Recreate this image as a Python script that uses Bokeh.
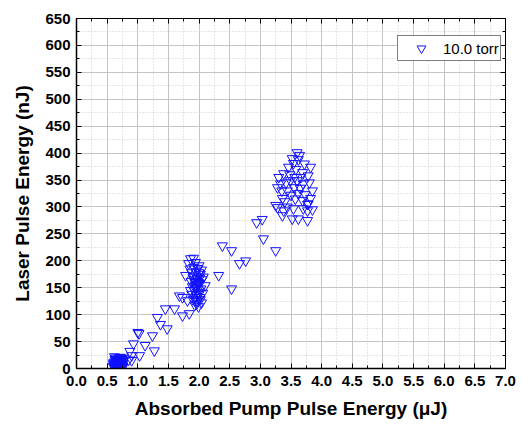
import numpy as np
from bokeh.plotting import figure
from bokeh.models import (Range1d, SingleIntervalTicker, FixedTicker, LinearAxis,
                          NumeralTickFormatter, Legend, LegendItem, ColumnDataSource)
from bokeh.embed import file_html
from bokeh.resources import INLINE

# ---- data ----
x_low = [0.60, 0.61, 0.62, 0.63, 0.63, 0.64, 0.65, 0.65, 0.66, 0.67, 0.67, 0.68, 0.68, 0.69, 0.70,
         0.70, 0.71, 0.71, 0.72, 0.72, 0.73, 0.74, 0.74, 0.75, 0.76, 0.62, 0.66, 0.69, 0.73, 0.77,
         0.61, 0.64, 0.66, 0.68, 0.70, 0.72, 0.74, 0.76, 0.63, 0.67, 0.71, 0.75, 0.65, 0.69, 0.73,
         0.60, 0.64, 0.68, 0.72, 0.76]
y_low = [4, 12, 2, 8, 17, 5, 11, 20, 3, 14, 7, 18, 1, 10, 5,
         15, 21, 8, 3, 12, 17, 6, 13, 19, 9, 22, 1, 4, 10, 15,
         7, 15, 9, 6, 19, 16, 2, 14, 11, 2, 13, 4, 17, 7, 20,
         9, 1, 13, 7, 3]

x_mid = [0.85, 0.87, 0.90, 0.90, 0.93, 1.00, 1.02, 1.03, 1.12, 1.24, 1.27, 1.32, 1.37, 1.45,
         1.48, 1.60, 1.68, 1.73, 1.73, 1.84, 1.81, 1.78]
y_mid = [16, 32, 15, 24, 46, 67, 65, 24, 43, 61, 33, 95, 82, 111,
         74, 111, 135, 98, 132, 102, 126, 173]

x_two = [1.86, 1.83, 1.94, 2.00, 1.91, 1.85, 1.88, 1.95, 2.02, 1.90, 1.97, 2.05, 1.87, 1.93,
         2.00, 2.10, 1.89, 1.96, 2.03, 1.92, 1.98, 2.06, 1.88, 1.95, 2.01, 1.90, 1.97, 2.04,
         1.93, 1.99, 2.02, 1.86, 1.94, 2.07, 1.91, 1.98, 2.04, 1.96, 2.00, 1.92,
         1.95, 1.99, 1.93, 1.97, 2.01, 1.94, 1.98, 1.96, 2.00, 1.95]
y_two = [204, 195, 197, 191, 205, 185, 178, 180, 175, 170, 168, 165, 162, 160,
         158, 154, 152, 150, 148, 145, 142, 140, 138, 135, 132, 128, 125, 122,
         118, 115, 128, 145, 155, 170, 188, 186, 183, 120, 138, 165,
         172, 160, 150, 146, 168, 132, 156, 162, 178, 126]

x_gap = [2.38, 2.53, 2.76, 2.66, 2.32, 2.53, 2.94, 3.03, 3.05, 3.25]
y_gap = [228, 219, 200, 195, 173, 148, 271, 277, 241, 219]

x_high = [3.60, 3.64, 3.52, 3.54, 3.82, 3.46, 3.69, 3.38, 3.30, 3.78, 3.28, 3.44, 3.55, 3.62,
          3.82, 3.25, 3.38, 3.54, 3.77, 3.77, 3.69, 3.36, 3.49, 3.60, 3.70, 3.33, 3.28, 3.36,
          3.52, 3.62, 3.77, 3.70, 3.78, 3.58, 3.66, 3.72, 3.48, 3.42, 3.57, 3.65, 3.50, 3.40,
          3.85, 3.80, 3.62, 3.44, 3.73, 3.56, 3.35, 3.85]
y_high = [401, 396, 390, 381, 374, 374, 364, 362, 355, 358, 336, 330, 336, 325,
          316, 303, 293, 297, 293, 305, 312, 316, 349, 349, 343, 343, 299, 284,
          278, 278, 275, 297, 306, 370, 355, 380, 360, 345, 315, 335, 322, 310,
          330, 345, 388, 300, 323, 355, 330, 295]

x_vals = x_low + x_mid + x_two + x_gap + x_high
y_vals = y_low + y_mid + y_two + y_gap + y_high
series_label = "10.0 torr"

x_min, x_max, x_step = 0.0, 7.0, 0.5
y_min, y_max, y_step = 0, 650, 50

FONT = "Liberation Sans"

p = figure(frame_width=429, frame_height=350, output_backend="svg", toolbar_location=None,
           x_range=Range1d(x_min, x_max), y_range=Range1d(y_min, y_max),
           min_border_left=76, min_border_top=18, min_border_right=15, min_border_bottom=55,
           background_fill_color="white", border_fill_color="white")
p.outline_line_color = "black"
p.outline_line_width = 1

xt = SingleIntervalTicker(interval=x_step, num_minor_ticks=2)
yt = SingleIntervalTicker(interval=y_step, num_minor_ticks=2)

p.xaxis.ticker = xt
p.yaxis.ticker = yt
p.xaxis.formatter = NumeralTickFormatter(format="0.0")

for ax in (p.xaxis[0], p.yaxis[0]):
    ax.major_tick_in = 5
    ax.major_tick_out = 0
    ax.minor_tick_in = 3
    ax.minor_tick_out = 0
    ax.axis_line_color = "black"
    ax.axis_line_width = 1.5
    ax.major_tick_line_color = "black"
    ax.minor_tick_line_color = "black"
    ax.major_label_text_font = FONT
    ax.major_label_text_font_style = "bold"
    ax.major_label_text_font_size = "15px"
    ax.major_label_text_color = "black"
    ax.axis_label_text_font = FONT
    ax.axis_label_text_font_style = "bold"
    ax.axis_label_text_font_size = "19px"
    ax.axis_label_text_color = "black"

p.xaxis.axis_label = "Absorbed Pump Pulse Energy (\u03bcJ)"
p.yaxis.axis_label = "Laser Pulse Energy (nJ)"
p.xaxis.major_label_standoff = 7
p.xaxis.axis_label_standoff = 9
p.yaxis.major_label_standoff = 6
p.yaxis.axis_label_standoff = 9

# mirrored tick marks (no labels) on the top and right edges
x_major_pos = list(np.arange(x_min, x_max + 1e-9, x_step))
x_minor_pos = list(np.arange(x_min + x_step / 2, x_max, x_step))
y_major_pos = list(np.arange(y_min, y_max + 1e-9, y_step))
y_minor_pos = list(np.arange(y_min + y_step / 2, y_max, y_step))
for loc, pos, ln in (("above", x_major_pos, 5), ("above", x_minor_pos, 3),
                     ("right", y_major_pos, 5), ("right", y_minor_pos, 3)):
    a = LinearAxis(ticker=FixedTicker(ticks=[], minor_ticks=pos), major_label_standoff=0,
                   major_tick_in=0, major_tick_out=0, minor_tick_in=ln, minor_tick_out=0,
                   axis_line_color="black", axis_line_width=1,
                   minor_tick_line_color="black")
    p.add_layout(a, loc)

for g in (p.xgrid[0], p.ygrid[0]):
    g.grid_line_color = "#c4c4c4"
    g.grid_line_width = 1
    g.minor_grid_line_color = "#cccccc"
    g.minor_grid_line_dash = "1 2"
    g.minor_grid_line_width = 1

src = ColumnDataSource(dict(x=x_vals, y=y_vals))
r = p.scatter("x", "y", source=src, marker="inverted_triangle", size=10,
              fill_color=None, line_color="#1010ff", line_width=1)

leg = Legend(items=[LegendItem(label=series_label, renderers=[r])], location=(321, 307),
             label_text_font=FONT, label_text_font_size="15px", label_text_color="black",
             border_line_color="black", border_line_width=1, background_fill_alpha=1,
             padding=1, spacing=0, margin=0, glyph_width=44, glyph_height=22, label_standoff=0)
p.add_layout(leg, "center")

open("out.html", "w").write(file_html(p, INLINE))
